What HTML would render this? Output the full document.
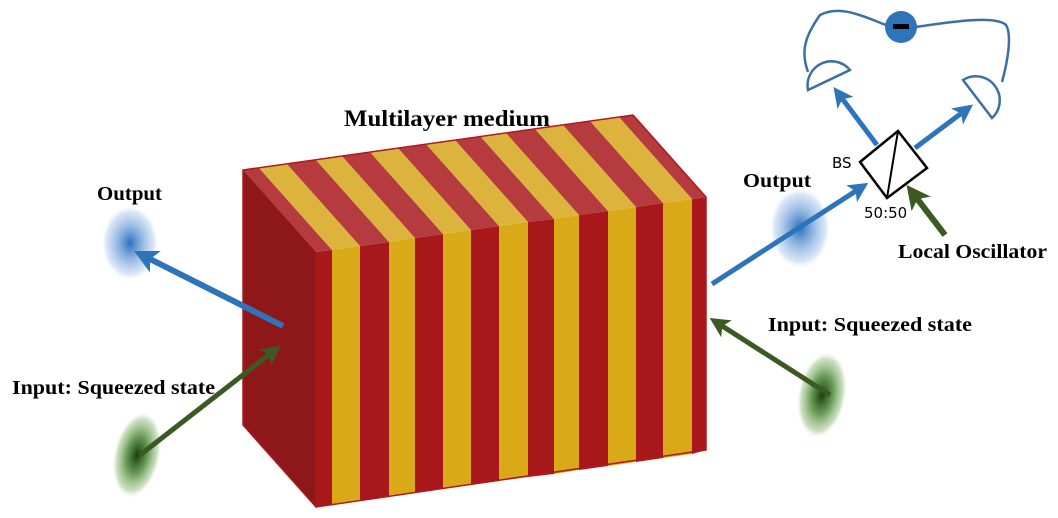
<!DOCTYPE html>
<html><head><meta charset="utf-8"><style>
html,body{margin:0;padding:0;background:#fff;}
svg{display:block;}
.t{font-family:"Liberation Serif",serif;font-size:20px;font-weight:bold;fill:#000;}
.s{font-family:"DejaVu Sans","Liberation Sans",sans-serif;font-size:15px;}
</style></head><body>
<svg width="1058" height="518" viewBox="0 0 1058 518" xmlns="http://www.w3.org/2000/svg">
<defs>
<radialGradient id="gb"><stop offset="0" stop-color="#2a6fbf"/><stop offset="0.45" stop-color="#6fa0d8" stop-opacity="0.75"/><stop offset="0.85" stop-color="#c0d6f0" stop-opacity="0.6"/><stop offset="1" stop-color="#e0ecf8" stop-opacity="0"/></radialGradient>
<radialGradient id="gg"><stop offset="0" stop-color="#163f0c"/><stop offset="0.45" stop-color="#4f8a3a" stop-opacity="0.85"/><stop offset="0.85" stop-color="#a9cb98" stop-opacity="0.6"/><stop offset="1" stop-color="#d8e9cf" stop-opacity="0"/></radialGradient>
<marker id="ab" markerWidth="4" markerHeight="4" refX="2.5" refY="2" orient="auto" markerUnits="strokeWidth"><path d="M0,0 L4,2 L0,4 L1,2 Z" fill="#2e74bb"/></marker>
<marker id="ag" markerWidth="4" markerHeight="4" refX="2.5" refY="2" orient="auto" markerUnits="strokeWidth"><path d="M0,0 L4,2 L0,4 L1,2 Z" fill="#3a5a22"/></marker>
</defs>
<ellipse cx="130" cy="243" rx="28" ry="37" fill="url(#gb)"/>
<ellipse cx="137" cy="455" rx="23" ry="43" transform="rotate(12 137 455)" fill="url(#gg)"/>
<ellipse cx="800" cy="228" rx="30" ry="40" fill="url(#gb)"/>
<ellipse cx="822" cy="395" rx="24" ry="43" transform="rotate(10 822 395)" fill="url(#gg)"/>
<polygon points="243,170 316,252 316,507 243,425" fill="#8e1819" stroke="#a01c1e"/>
<g>
<polygon points="316,252 332,250 332,505 316,507" fill="#a8181b"/>
<polygon points="332,250 360,246 360,501 332,505" fill="#d9a917"/>
<polygon points="360,246 389,242 389,497 360,501" fill="#a8181b"/>
<polygon points="389,242 415,238 415,493 389,497" fill="#d9a917"/>
<polygon points="415,238 443,234 443,489 415,493" fill="#a8181b"/>
<polygon points="443,234 471,230 471,485 443,489" fill="#d9a917"/>
<polygon points="471,230 499,226 499,481 471,485" fill="#a8181b"/>
<polygon points="499,226 528,222 528,477 499,481" fill="#d9a917"/>
<polygon points="528,222 554,219 554,474 528,477" fill="#a8181b"/>
<polygon points="554,219 579,215 579,470 554,474" fill="#d9a917"/>
<polygon points="579,215 608,211 608,466 579,470" fill="#a8181b"/>
<polygon points="608,211 636,207 636,462 608,466" fill="#d9a917"/>
<polygon points="636,207 663,203 663,458 636,462" fill="#a8181b"/>
<polygon points="663,203 692,199 692,454 663,458" fill="#d9a917"/>
<polygon points="692,199 706,197 706,450 692,454" fill="#a8181b"/>
<polygon points="243,170 259,168 332,250 316,252" fill="#b53b3e"/>
<polygon points="259,168 287,164 360,246 332,250" fill="#dcb33c"/>
<polygon points="287,164 316,160 389,242 360,246" fill="#b53b3e"/>
<polygon points="316,160 342,156 415,238 389,242" fill="#dcb33c"/>
<polygon points="342,156 370,152 443,234 415,238" fill="#b53b3e"/>
<polygon points="370,152 398,148 471,230 443,234" fill="#dcb33c"/>
<polygon points="398,148 426,144 499,226 471,230" fill="#b53b3e"/>
<polygon points="426,144 455,140 528,222 499,226" fill="#dcb33c"/>
<polygon points="455,140 481,137 554,219 528,222" fill="#b53b3e"/>
<polygon points="481,137 506,133 579,215 554,219" fill="#dcb33c"/>
<polygon points="506,133 535,129 608,211 579,215" fill="#b53b3e"/>
<polygon points="535,129 563,125 636,207 608,211" fill="#dcb33c"/>
<polygon points="563,125 590,121 663,203 636,207" fill="#b53b3e"/>
<polygon points="590,121 619,117 692,199 663,203" fill="#dcb33c"/>
<polygon points="619,117 633,115 706,197 692,199" fill="#b53b3e"/>
<polyline points="243,170 633,115 706,197 706,450 316,507 243,425 243,170" fill="none" stroke="#b0181c" stroke-width="1.5"/>
</g>
<line x1="283" y1="326" x2="142" y2="255" stroke="#2e74bb" stroke-width="6" marker-end="url(#ab)"/>
<line x1="140" y1="455" x2="275" y2="350" stroke="#3a5a22" stroke-width="5" marker-end="url(#ag)"/>
<line x1="712" y1="284" x2="862" y2="187" stroke="#2e74bb" stroke-width="5" marker-end="url(#ab)"/>
<line x1="830" y1="395" x2="716" y2="322" stroke="#3a5a22" stroke-width="5" marker-end="url(#ag)"/>
<line x1="877" y1="145" x2="838" y2="93" stroke="#2e74bb" stroke-width="5" marker-end="url(#ab)"/>
<line x1="915" y1="148" x2="967" y2="109" stroke="#2e74bb" stroke-width="5" marker-end="url(#ab)"/>
<line x1="945" y1="235" x2="912" y2="192" stroke="#3a5a22" stroke-width="6" marker-end="url(#ag)"/>
<polygon points="898,131 927,168 887,198 860,162" fill="#fff" stroke="#000" stroke-width="2.5"/>
<line x1="898" y1="131" x2="887" y2="198" stroke="#000" stroke-width="2"/>
<path d="M850,70 L808,90 A24,24 0 0 1 850,70 Z" fill="#fff" stroke="#3d6fa4" stroke-width="2.5"/>
<path d="M963,80 L992,118 A24,24 0 0 0 963,80 Z" fill="#fff" stroke="#3d6fa4" stroke-width="2.5"/>
<path d="M808,72 C800,50 806,35 820,15 C840,5 860,15 886,25" fill="none" stroke="#3d6fa4" stroke-width="2.5"/>
<path d="M916,27 C950,22 995,15 1006,25 C1012,35 1008,60 1002,82" fill="none" stroke="#3d6fa4" stroke-width="2.5"/>
<circle cx="901" cy="27" r="16" fill="#2e74bb"/>
<rect x="893" y="24" width="16" height="5" fill="#000"/>
<text x="344" y="126" class="t" style="font-size:23px" textLength="206" lengthAdjust="spacingAndGlyphs">Multilayer medium</text>
<text x="97" y="200" class="t" textLength="65" lengthAdjust="spacingAndGlyphs">Output</text>
<text x="12" y="394" class="t" textLength="203" lengthAdjust="spacingAndGlyphs">Input: Squeezed state</text>
<text x="743" y="187" class="t" textLength="68" lengthAdjust="spacingAndGlyphs">Output</text>
<text x="768" y="331" class="t" textLength="204" lengthAdjust="spacingAndGlyphs">Input: Squeezed state</text>
<text x="898" y="258" class="t" textLength="149" lengthAdjust="spacingAndGlyphs">Local Oscillator</text>
<text x="832" y="168" class="s">BS</text>
<text x="864" y="218" class="s">50:50</text>
</svg>
</body></html>
